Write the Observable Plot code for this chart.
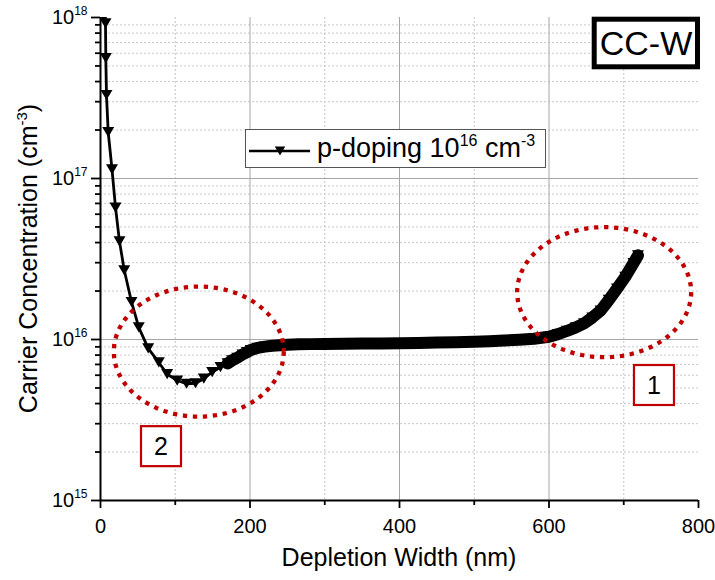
<!DOCTYPE html>
<html>
<head>
<meta charset="utf-8">
<script src="https://cdn.jsdelivr.net/npm/d3@7"></script>
<script src="https://cdn.jsdelivr.net/npm/@observablehq/plot@0.6"></script>
<style>
  html, body { margin: 0; padding: 0; background: white; }
  #chart { width: 715px; height: 580px; }
</style>
</head>
<body>
<div id="chart"></div>
<script>
// ---- data ----
const xTicks = [0, 200, 400, 600, 800];
const xMinorTicks = [100, 300, 500, 700];
const xMajorGrid = [200, 400, 600];
const yTicks = [1e15, 1e16, 1e17, 1e18];
const yMajorGrid = [1e16, 1e17];
const yMinorMantissas = [2, 3, 4, 5, 6, 7, 8, 9];
const yDecades = [1e15, 1e16, 1e17];

// sparse part of the profile (distinct markers)
const depthSparse = [4.5, 6.7, 7.1, 8.0, 10.3, 15.4, 20.1, 25.4, 31.8, 41.5, 51.2, 63.8, 78.0, 89.2, 102.6, 115.1, 127.1, 138.2, 149.4, 160.5];
const concSparse  = [1.0e18, 9.2e17, 5.6e17, 3.3e17, 1.94e17, 1.14e17, 6.6e16, 4.07e16, 2.69e16, 1.71e16, 1.19e16, 8.8e15, 7.2e15, 6.1e15, 5.56e15, 5.31e15, 5.35e15, 5.71e15, 6.27e15, 6.73e15];

// dense part of the profile (overlapping markers forming a thick band)
const depthDense = [170, 176, 183, 190, 196, 201, 210, 220, 230, 240, 250, 265, 280, 300, 325, 350, 375, 400, 425, 450, 475, 500, 520, 540, 560, 580, 600, 612, 624, 636, 647, 658, 669, 680, 691, 702, 713, 719];
const concDense  = [7.10e15, 7.41e15, 7.70e15, 8.07e15, 8.34e15, 8.6e15, 8.86e15, 9.03e15, 9.14e15, 9.22e15, 9.28e15, 9.33e15, 9.36e15, 9.38e15, 9.41e15, 9.43e15, 9.45e15, 9.48e15, 9.52e15, 9.57e15, 9.62e15, 9.68e15, 9.76e15, 9.85e15, 9.96e15, 1.01e16, 1.04e16, 1.08e16, 1.13e16, 1.19e16, 1.26e16, 1.37e16, 1.51e16, 1.76e16, 2.07e16, 2.45e16, 2.98e16, 3.33e16];

const seriesName = "p-doping";

// annotations (data coordinates)
const ellipseCx = [131.5, 673.8];       // nm
const ellipseRx = [113.7, 116.4];       // nm
const ellipseCyExp = [15.925, 16.294];  // log10 of concentration
const ellipseRyExp = [0.404, 0.404];    // decades
const boxLabels = ["2", "1"];
const boxX = [81.6, 741.1];
const boxY = [2.16e15, 5.18e15];

// ---- build tables ----
const sparse = depthSparse.map((d, i) => ({depth: d, conc: concSparse[i]}));
const dense = depthDense.map((d, i) => ({depth: d, conc: concDense[i]}));
const all = sparse.concat(dense);
const yMinor = yDecades.flatMap(d => yMinorMantissas.map(m => m * d));

const ellipses = ellipseCx.flatMap((cx, k) =>
  d3.range(0, 121).map(i => {
    const t = (i / 120) * 2 * Math.PI;
    return {id: k, x: cx + ellipseRx[k] * Math.cos(t), y: Math.pow(10, ellipseCyExp[k] - ellipseRyExp[k] * Math.sin(t))};
  })
);

const downTri = {
  draw(context, size) {
    const r = Math.sqrt(size / Math.PI);
    const w = r * 1.0, h = r * 0.85;
    context.moveTo(-w, -h);
    context.lineTo(w, -h);
    context.lineTo(0, h);
    context.closePath();
  }
};

const FONT = "'Liberation Sans', Arial, Helvetica, sans-serif";
const RED = "#c00000";

const plot = Plot.plot({
  width: 715,
  height: 580,
  marginLeft: 100,
  marginRight: 17,
  marginTop: 17,
  marginBottom: 80,
  style: {fontFamily: FONT, fontSize: "20px", color: "black", background: "white"},
  x: {domain: [0, 800]},
  y: {type: "log", domain: [1e15, 1e18]},
  marks: [
    Plot.ruleX(xMinorTicks, {stroke: "#c4c4c4", strokeDasharray: "2,2"}),
    Plot.ruleY(yMinor, {stroke: "#c8c8c8", strokeDasharray: "2,2"}),
    Plot.ruleX(xMajorGrid, {stroke: "#a6a6a6", strokeWidth: 1}),
    Plot.ruleY(yMajorGrid, {stroke: "#a6a6a6", strokeWidth: 1}),
    Plot.axisX({ticks: xMinorTicks, tickSize: 5, tickFormat: () => "", strokeWidth: 1.8, label: null}),
    Plot.axisX({ticks: xTicks, tickSize: 8, tickPadding: 10, fontSize: 20, strokeWidth: 1.8, label: null, tickFormat: d => String(d)}),
    Plot.axisY({ticks: yMinor, tickSize: 5, tickFormat: () => "", strokeWidth: 1.8, label: null}),
    Plot.axisY({ticks: yTicks, tickSize: 9, tickPadding: 4, fontSize: 20, strokeWidth: 1.8, label: null,
      tickFormat: d => "10^" + Math.round(Math.log10(d))}),
    Plot.ruleX([0], {stroke: "black", strokeWidth: 2}),
    Plot.ruleY([1e15], {stroke: "black", strokeWidth: 2}),
    Plot.line(dense, {x: "depth", y: "conc", stroke: "black", strokeWidth: 12, strokeLinejoin: "round", strokeLinecap: "round"}),
    Plot.line(all, {x: "depth", y: "conc", stroke: "black", strokeWidth: 2.8, clip: true}),
    Plot.dot(all, {x: "depth", y: "conc", symbol: downTri, r: 6, fill: "black", stroke: "none", clip: true}),
    Plot.line(ellipses, {x: "x", y: "y", z: "id", stroke: RED, strokeWidth: 4.3, strokeDasharray: "4.3,5.7", strokeLinecap: "butt"})
  ]
});

document.getElementById("chart").appendChild(plot);

// superscripts on y tick labels
plot.querySelectorAll('g[aria-label="y-axis tick label"] text').forEach(t => {
  const m = t.textContent.match(/^10\^(\d+)$/);
  if (!m) return;
  t.textContent = "";
  const NS = "http://www.w3.org/2000/svg";
  const a = document.createElementNS(NS, "tspan"); a.textContent = "10"; t.appendChild(a);
  const b = document.createElementNS(NS, "tspan"); b.textContent = m[1];
  b.setAttribute("font-size", "12"); b.setAttribute("dy", "-9"); t.appendChild(b);
});

const svg = d3.select(plot);
const sx = plot.scale("x"), sy = plot.scale("y");

// axis titles
const yl = svg.append("text")
  .attr("transform", "translate(37,258.5) rotate(-90)")
  .attr("text-anchor", "middle").attr("font-size", 25).attr("font-family", FONT).attr("fill", "black");
yl.append("tspan").text("Carrier Concentration (cm");
yl.append("tspan").text("-3").attr("font-size", 15).attr("dy", -10);
yl.append("tspan").text(")").attr("dy", 10);

svg.append("text").attr("x", 399).attr("y", 566)
  .attr("text-anchor", "middle").attr("font-size", 25).attr("font-family", FONT).attr("fill", "black")
  .text("Depletion Width (nm)");

// numbered red boxes
boxLabels.forEach((lab, i) => {
  const cx = sx.apply(boxX[i]), cy = sy.apply(boxY[i]);
  svg.append("rect").attr("x", cx - 20).attr("y", cy - 20).attr("width", 40).attr("height", 40)
    .attr("fill", "white").attr("stroke", RED).attr("stroke-width", 2.2);
  svg.append("text").attr("x", cx).attr("y", cy + 9).attr("text-anchor", "middle")
    .attr("font-size", 25).attr("font-family", FONT).attr("fill", "black").text(lab);
});

// legend
const lg = svg.append("g");
lg.append("rect").attr("x", 245.5).attr("y", 129.5).attr("width", 300).attr("height", 38)
  .attr("fill", "white").attr("stroke", "#555").attr("stroke-width", 1);
lg.append("line").attr("x1", 249).attr("x2", 310).attr("y1", 151).attr("y2", 151)
  .attr("stroke", "black").attr("stroke-width", 2.5);
lg.append("path").attr("d", "M274.8,146.5L285.2,146.5L280,155.5Z").attr("fill", "black");
const lt = lg.append("text").attr("x", 317).attr("y", 157).attr("font-size", 27)
  .attr("text-anchor", "start").attr("font-family", FONT).attr("fill", "black");
lt.append("tspan").text(seriesName + " 10");
lt.append("tspan").text("16").attr("font-size", 16).attr("dy", -11);
lt.append("tspan").text(" cm").attr("dy", 11);
lt.append("tspan").text("-3").attr("font-size", 16).attr("dy", -11);

// CC-W tag
svg.append("rect").attr("x", 594.2).attr("y", 19.2).attr("width", 103.3).attr("height", 47.6)
  .attr("fill", "white").attr("stroke", "black").attr("stroke-width", 5);
svg.append("text").attr("x", 646).attr("y", 55).attr("text-anchor", "middle")
  .attr("font-size", 34).attr("font-family", FONT).attr("fill", "black").text("CC-W");
</script>
</body>
</html>
